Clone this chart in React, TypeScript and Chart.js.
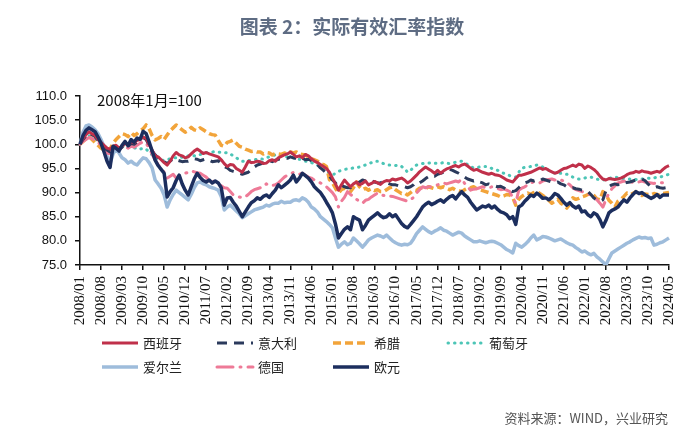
import { useEffect, useRef } from 'react';
import { Chart, registerables } from 'chart.js';

Chart.register(...registerables);

// ---------- categories ----------
const MONTHS: string[] = [];
for (let y = 2008; y <= 2024; y++) {
  for (let m = 1; m <= 12; m++) {
    if (y === 2024 && m > 5) break;
    MONTHS.push(`${y}/${String(m).padStart(2, '0')}`);
  }
}
const LABEL_STEP = 7;

const Y_MIN = 75;
const Y_MAX = 110;
const Y_STEP = 5;

const TITLE = '图表 2：实际有效汇率指数';
const NOTE = '2008年1月=100';
const SOURCE = '资料来源：WIND，兴业研究';

const NAMES = ['西班牙', '意大利', '希腊', '葡萄牙', '爱尔兰', '德国', '欧元'];

// ---------- series (monthly, 2008/01 - 2024/05) ----------
const SPAIN = [
  100.0, 101.2, 102.0, 102.6, 102.2, 101.8, 101.0, 100.4, 99.8, 99.2, 99.0, 99.6,
  99.8, 99.2, 99.6, 100.2, 99.9, 100.6, 100.3, 100.8, 101.0, 101.5, 101.2, 100.0,
  98.8, 97.6, 97.4, 96.8, 96.2, 95.7, 96.5, 97.6, 98.3, 97.8, 97.6, 97.2,
  97.4, 98.0, 98.6, 99.0, 98.6, 98.1, 98.3, 98.0, 97.8, 97.6, 97.4, 96.8,
  96.0, 95.4, 95.8, 95.7, 95.0, 94.6, 94.2, 95.3, 96.5, 96.2, 96.3, 96.5,
  96.4, 96.0, 96.1, 96.6, 96.8, 96.5, 97.2, 97.5, 97.8, 98.0, 98.4, 97.9,
  97.4, 97.6, 97.2, 97.9, 97.6, 97.0, 96.5, 96.2, 95.8, 95.4, 95.0, 94.2,
  93.0, 91.8, 90.5, 91.6, 92.6, 91.9, 91.2, 91.8, 92.2, 91.6, 91.9, 92.4,
  91.6, 91.9, 92.3, 92.0, 91.7, 92.2, 92.5, 92.4, 92.8, 92.6, 92.8, 93.0,
  92.6, 92.0, 92.4, 93.0, 93.6, 94.3, 94.8, 95.3, 94.9, 94.5, 94.0, 94.6,
  94.0, 94.5, 94.9, 95.1, 95.4, 95.6, 95.3, 95.7, 95.9, 95.5, 95.0, 94.6,
  94.8, 94.5, 94.2, 94.0, 93.8, 94.0, 93.7, 93.6, 93.4, 93.0, 92.6, 92.4,
  92.2, 92.9, 93.6, 93.6, 93.8, 94.0, 94.2, 94.5, 94.8, 95.1, 94.8, 95.0,
  94.6, 94.3, 94.0, 94.2, 94.6, 95.0, 95.1, 95.4, 95.7, 95.4, 95.9, 95.7,
  95.0, 95.5, 95.2, 94.8, 94.2, 93.4, 92.8, 92.6, 92.9, 92.8, 92.7, 92.8,
  93.0, 93.3, 93.7, 94.0, 94.1, 94.4, 94.2, 94.5, 94.3, 94.2, 94.0, 94.2,
  94.4, 94.2, 94.8, 95.3, 95.6,
];

const ITALY = [
  100.0, 101.0, 101.8, 102.4, 102.0, 101.6, 100.8, 100.0, 99.4, 98.8, 98.4, 99.2,
  99.6, 99.0, 99.4, 100.0, 99.6, 100.2, 100.0, 100.5, 100.8, 101.4, 101.0, 99.8,
  98.6, 97.8, 97.2, 96.8, 96.4, 96.0, 96.5, 97.0, 96.8, 96.6, 96.4, 96.5,
  96.5, 96.8, 97.0, 96.9, 96.6, 96.8, 97.0, 96.7, 96.4, 96.5, 96.6, 96.0,
  95.4, 95.1, 94.6, 94.4, 94.2, 94.0, 93.8, 94.0, 94.2, 94.8, 95.3, 95.7,
  95.9, 96.2, 96.5, 96.6, 96.4, 96.7, 96.9, 97.0, 97.2, 97.1, 97.4, 97.2,
  97.0, 97.3, 97.1, 96.8, 96.9, 96.6, 96.2, 95.8, 95.1, 94.6, 94.0, 93.4,
  92.6, 92.0, 91.2, 91.5, 91.2, 91.0, 91.0, 91.4, 91.8, 92.2, 92.6, 92.4,
  92.2, 92.4, 92.2, 92.0, 92.0, 92.3, 92.1, 91.8, 91.6, 91.6, 91.4, 91.2,
  91.2, 91.0, 91.2, 91.6, 92.2, 92.0, 92.4, 92.9, 93.3, 93.6, 93.4, 93.8,
  94.0, 94.2, 94.5, 94.8, 94.6, 94.3, 94.0, 93.6, 93.2, 92.8, 92.6, 92.4,
  92.6, 92.2, 92.0, 91.6, 91.8, 91.6, 91.4, 91.2, 91.3, 91.0, 90.6, 90.5,
  90.2, 90.4, 91.0, 91.6, 92.0, 92.2, 92.6, 92.4, 92.6, 92.4, 92.8, 92.6,
  92.4, 92.2, 92.0, 92.2, 91.8, 91.6, 91.2, 90.9, 91.0, 90.8, 90.7, 90.5,
  90.5, 90.2, 89.6, 88.9, 88.4, 88.2, 88.5, 90.4, 91.2, 91.6, 91.8, 91.6,
  92.0, 91.9, 92.1, 92.2, 92.4, 92.6, 92.7, 92.8, 92.5, 91.8, 91.2, 91.0,
  91.2, 91.0, 90.9, 91.0, 91.0,
];

const GREECE = [
  100.0, 100.6, 101.2, 101.6, 101.0, 100.4, 99.8, 99.2, 98.8, 98.5, 99.0, 100.2,
  101.0, 101.6, 102.2, 102.0, 101.6, 102.4, 101.8, 102.2, 102.8, 103.2, 104.0, 103.2,
  101.8, 100.9, 101.2, 101.6, 101.0, 101.9, 102.8, 103.4, 104.0, 103.5, 103.0, 102.5,
  102.8, 103.5, 103.0, 102.8, 103.4, 103.0, 102.6, 102.2, 102.0, 101.9, 100.8, 99.8,
  99.6, 100.4, 100.6, 100.9, 100.2, 99.6, 99.4, 99.0, 98.8, 98.5, 98.6, 98.4,
  98.4, 98.0, 98.3, 98.2, 97.8, 98.1, 98.0, 97.9, 98.2, 98.0, 98.4, 98.2,
  98.4, 98.0, 97.9, 97.8, 97.4, 97.0, 96.8, 96.5, 96.0, 95.8, 95.4, 92.7,
  92.0, 90.9, 89.9, 90.6, 90.9, 90.4, 90.2, 91.0, 92.2, 91.2, 90.6, 90.9,
  90.5, 90.8, 90.4, 90.6, 90.2, 90.2, 90.6, 91.0, 91.2, 90.6, 90.2, 89.8,
  89.9, 89.5, 90.0, 90.5, 90.4, 90.9, 91.0, 90.8, 91.2, 91.0, 90.8, 91.2,
  91.0, 91.2, 90.9, 90.6, 90.9, 90.5, 90.4, 90.2, 90.6, 90.9, 91.0, 91.2,
  90.8, 90.6, 90.4, 90.2, 90.0, 89.8, 89.6, 89.4, 89.1, 89.3, 89.6, 89.5,
  89.0, 87.4, 88.6, 89.2, 89.6, 89.9, 89.6, 90.0, 90.2, 89.8, 89.4, 88.9,
  88.4, 87.8, 88.2, 88.6, 87.8, 87.4, 86.8, 87.6, 88.9, 88.6, 88.8, 89.1,
  89.3, 89.6, 89.9, 89.4, 88.7, 88.5, 90.2, 89.6, 88.4, 87.8, 87.0, 88.2,
  88.6, 89.2, 89.9, 89.6, 89.8, 90.2, 89.5, 89.4, 89.7, 89.6, 89.5, 89.8,
  89.6, 89.4, 89.8, 89.9, 90.0,
];

const PORTUGAL = [
  100.0, 100.8, 101.4, 101.8, 101.5, 101.0, 100.6, 100.0, 99.6, 99.2, 99.0, 99.4,
  99.6, 99.2, 99.5, 99.8, 99.6, 99.4, 99.2, 99.3, 99.0, 99.2, 99.0, 98.4,
  97.8, 97.2, 97.0, 96.8, 96.6, 96.8, 97.0, 97.2, 97.2, 97.4, 97.3, 97.5,
  97.6, 97.8, 97.6, 97.9, 97.9, 98.0, 98.2, 98.4, 98.4, 98.5, 98.4, 98.3,
  98.2, 98.3, 98.0, 97.6, 97.2, 96.8, 96.5, 96.4, 96.6, 96.7, 96.8, 96.9,
  97.0, 96.9, 97.2, 97.4, 97.6, 97.8, 97.9, 97.6, 97.5, 97.4, 97.4, 97.2,
  97.0, 96.9, 96.7, 96.5, 96.4, 96.2, 96.0, 95.7, 95.4, 95.0, 94.5, 94.0,
  93.6, 94.0, 94.4, 94.6, 94.8, 94.9, 95.0, 95.1, 95.1, 95.3, 95.5, 95.7,
  96.0, 96.2, 96.5, 96.5, 96.3, 96.0, 95.8, 95.7, 95.7, 95.6, 95.7, 95.4,
  95.0, 94.2, 94.6, 95.2, 95.7, 95.9, 96.0, 96.1, 96.1, 96.2, 96.1, 96.0,
  96.1, 96.2, 96.1, 96.0, 96.1, 96.3, 96.4, 96.5, 96.2, 95.8, 95.4, 95.1,
  95.2, 95.3, 95.4, 95.4, 95.3, 95.0, 94.8, 94.6, 94.2, 94.0, 93.8, 93.5,
  93.4, 93.2, 94.2, 95.1, 95.2, 95.3, 95.4, 95.5, 95.7, 95.6, 95.3, 95.0,
  94.6, 94.2, 94.0, 93.9, 94.0, 93.8, 93.8, 93.5, 93.2, 93.0, 92.8, 92.9,
  93.0, 93.2, 93.2, 93.0, 92.8, 92.6, 92.6, 92.7, 92.9, 93.1, 93.2, 93.1,
  93.0, 92.9, 92.8, 92.8, 92.9, 92.7, 92.8, 92.8, 92.9, 93.0, 92.9, 93.0,
  93.2, 93.2, 93.4, 93.6, 93.8,
];

const IRELAND = [
  100.0, 102.5, 103.8, 104.0, 103.6, 103.0, 102.2, 101.0, 99.5, 97.6, 96.0, 98.0,
  99.0, 98.2, 97.2, 96.8, 96.1, 96.5, 96.0, 95.7, 96.5, 97.2, 97.0, 96.2,
  95.1, 92.6, 91.8, 90.9, 89.5, 87.0, 88.5, 89.6, 90.5, 90.0, 89.5, 89.0,
  88.5, 89.6, 91.0, 92.0, 92.2, 91.8, 91.6, 91.2, 91.0, 90.8, 90.5, 89.2,
  86.4, 87.0, 87.4, 86.8, 86.2, 85.6, 84.8, 85.2, 85.6, 86.0, 86.4, 86.6,
  86.8, 87.0, 87.4, 87.2, 87.6, 87.8, 87.8, 88.2, 87.9, 88.0, 88.0, 88.4,
  88.5, 88.3, 88.9, 88.6, 88.0, 87.0, 86.6, 86.0, 85.0, 84.5, 84.0, 83.4,
  82.7, 80.6, 78.7, 79.3, 79.8, 79.2, 79.5, 80.6, 80.0, 79.4, 78.7, 79.4,
  80.2, 80.6, 80.9, 81.2, 81.0, 80.7, 81.2, 80.6, 80.0, 79.6, 79.3, 79.1,
  79.3, 79.2, 79.5, 80.4, 81.5, 82.2, 82.9, 82.4, 81.9, 81.6, 82.0, 82.3,
  82.7, 82.2, 82.0, 81.6, 81.2, 81.5, 81.8, 81.6, 81.0, 80.6, 80.2, 79.8,
  79.8, 80.0, 79.8, 79.6, 79.8, 79.9, 79.8, 79.5, 79.2, 78.7, 78.2, 77.9,
  77.5, 79.5, 79.0, 78.7, 79.2, 79.8, 80.6, 81.2, 80.2, 80.5, 80.9, 80.8,
  80.6, 80.3, 80.0, 80.2, 80.4, 80.0, 79.6, 79.3, 79.1, 78.6, 78.2, 77.7,
  77.9, 77.4, 77.1, 77.4, 76.7, 76.2, 75.6, 75.0, 76.3, 77.5, 77.9, 78.3,
  78.7, 79.1, 79.5, 79.8, 80.2, 80.5, 80.8, 80.6, 80.7, 80.5, 80.6, 79.1,
  79.3, 79.6, 79.8, 80.2, 80.6,
];

const GERMANY = [
  100.0, 100.6, 101.0, 101.4, 101.2, 100.8, 100.4, 99.8, 99.0, 98.2, 98.0, 99.0,
  99.6, 99.0, 99.3, 99.5, 99.2, 99.6, 99.4, 99.8, 100.2, 100.5, 100.2, 99.2,
  98.0, 96.8, 95.8, 95.0, 94.2, 93.0, 93.4, 93.8, 93.0, 93.5, 93.8, 94.0,
  94.2, 94.5, 94.3, 94.1, 94.0, 93.6, 93.2, 92.6, 92.4, 92.2, 91.8, 91.4,
  91.0, 90.9, 90.2, 89.5, 89.3, 89.1, 88.9, 89.1, 89.6, 90.2, 90.6, 90.8,
  91.0, 91.2, 91.8, 91.4, 91.5, 91.6, 92.0, 92.6, 93.2, 93.6, 93.8, 94.2,
  94.0, 93.8, 94.0, 93.6, 93.2, 93.0, 92.6, 92.2, 92.0, 91.6, 91.2, 90.6,
  90.0, 89.1, 87.0, 88.2, 89.0, 90.2, 89.6, 89.2, 88.6, 88.2, 87.8, 88.4,
  88.6, 89.1, 89.5, 89.9, 89.6, 89.4, 89.5, 89.3, 89.2, 89.0, 88.8, 88.6,
  88.4, 88.2, 88.5, 89.0, 89.9, 90.6, 91.2, 91.0, 91.2, 91.2, 91.4, 91.6,
  91.8, 92.0, 91.8, 92.0, 92.2, 92.4, 92.2, 92.8, 91.9, 91.2, 90.5, 90.7,
  90.8, 91.0, 91.2, 91.0, 90.9, 91.2, 91.0, 90.8, 90.6, 90.7, 90.5, 90.2,
  88.9, 87.8, 90.5, 90.9, 91.2, 91.6, 92.0, 92.2, 92.1, 92.0, 92.4, 92.6,
  92.7, 92.8, 92.6, 92.8, 92.6, 92.4, 92.0, 91.6, 91.0, 90.6, 90.4, 90.2,
  90.0, 89.8, 89.5, 89.0, 88.5, 87.8, 87.0, 88.5, 89.9, 90.8, 91.4, 92.0,
  92.2, 92.4, 92.2, 92.3, 92.1, 92.0, 92.2, 92.4, 92.2, 92.1, 92.0, 91.9,
  92.0, 92.1, 92.0, 92.1, 92.0,
];

const EURO = [
  100.0, 101.8, 102.9, 103.4, 103.0, 102.6, 101.5, 100.2, 98.4, 96.5, 95.2, 99.6,
  99.2, 98.6, 99.8, 100.6, 99.7, 101.0, 100.4, 101.3, 101.0, 102.7, 102.2, 100.5,
  98.6, 96.7, 95.6, 94.8, 94.0, 89.1, 90.2, 91.0, 92.5, 93.6, 91.8, 90.5,
  89.5, 91.2, 92.8, 94.0, 93.1, 92.5, 92.2, 92.6, 92.0, 92.4, 92.0, 91.0,
  87.4, 88.9, 89.0, 88.0, 87.2, 86.1, 85.0, 86.0, 87.0, 87.9, 88.3, 88.9,
  88.6, 89.2, 89.5, 89.0, 89.8, 90.5, 91.6, 91.0, 91.5, 92.0, 92.6, 93.6,
  92.2, 93.0, 94.0, 93.5, 93.0, 92.2, 91.2, 90.6, 90.0, 89.1, 88.0, 87.0,
  85.8, 83.5, 80.6, 81.5, 82.4, 82.9, 82.3, 85.0, 84.6, 84.3, 82.3, 83.2,
  84.3, 84.8, 85.3, 85.8, 85.2, 84.8, 85.0, 85.6, 85.0, 85.4, 84.5, 83.6,
  83.0, 82.7, 83.4, 84.2, 85.0, 86.0, 87.0, 87.6, 88.0, 87.5, 87.8, 88.2,
  88.5, 88.0, 88.6, 89.1, 89.4, 88.7, 89.5, 90.2, 89.5, 89.0, 88.0, 87.2,
  86.4, 86.8, 87.2, 87.0, 87.4, 86.8, 87.2, 86.5, 86.0, 85.8, 85.4, 84.6,
  85.0, 83.4, 87.0, 87.4, 88.2, 88.8, 89.5, 89.2, 89.9, 89.4, 88.8, 88.9,
  88.5, 89.0, 89.8, 89.5, 88.8, 88.0, 87.4, 87.9, 87.2, 86.8, 87.2, 86.0,
  86.2, 85.4, 85.0, 85.8, 85.4, 84.4, 82.9, 84.2, 85.8, 86.3, 86.6, 87.0,
  87.8, 88.5, 88.0, 88.9, 89.6, 90.2, 89.8, 90.0, 89.5, 89.2, 88.8, 89.1,
  89.6, 89.0, 89.5, 89.5, 89.5,
];

const SERIES = [SPAIN, ITALY, GREECE, PORTUGAL, IRELAND, GERMANY, EURO];

// ---------- styles ----------
const COLORS = ['#C0304A', '#2B3A5C', '#F2A43A', '#4CC5B6', '#9EBCDB', '#EE7A97', '#1C2E5E'];
const WIDTHS = [3, 3, 3.5, 3, 3.5, 3, 3.5];
const DASHES: number[][] = [[], [10, 7], [8, 4], [0.5, 6], [], [16, 7, 1, 7], []];
const CAPS = ['butt', 'butt', 'butt', 'round', 'butt', 'round', 'butt'];
const Z_ORDER = [1, 2, 4, 5, 6, 3, 0];

const CJK = "'Noto Sans CJK SC', 'Noto Sans', sans-serif";

const overlayPlugin = {
  id: 'overlayText',
  afterDraw(chart: any) {
    const ctx = chart.ctx as CanvasRenderingContext2D;
    const area = chart.chartArea;
    ctx.save();
    // title
    ctx.fillStyle = '#5E6C83';
    ctx.font = `bold 19px ${CJK}`;
    ctx.textAlign = 'center';
    ctx.textBaseline = 'middle';
    ctx.fillText(TITLE, 352, 27);

    // note
    ctx.fillStyle = '#111';
    ctx.font = `15px ${CJK}`;
    ctx.textAlign = 'left';
    ctx.fillText(NOTE, area.left + 17, area.top + 4);

    // legend grid
    const colX = [102, 217, 333, 448];
    const rowY = [343, 367];
    chart.data.datasets.forEach((ds: any, i: number) => {
      const x = colX[i % 4];
      const y = rowY[Math.floor(i / 4)];
      ctx.save();
      ctx.strokeStyle = ds.borderColor;
      ctx.lineWidth = ds.borderWidth;
      ctx.lineCap = ds.borderCapStyle || 'butt';
      ctx.setLineDash(ds.borderDash || []);
      ctx.beginPath();
      ctx.moveTo(x, y);
      ctx.lineTo(x + 36, y);
      ctx.stroke();
      ctx.restore();
      ctx.fillStyle = '#222';
      ctx.font = `13px ${CJK}`;
      ctx.textAlign = 'left';
      ctx.textBaseline = 'middle';
      ctx.fillText(ds.label, x + 41, y);
    });

    // source
    ctx.fillStyle = '#555';
    ctx.font = `13px ${CJK}`;
    ctx.textAlign = 'right';
    ctx.textBaseline = 'middle';
    ctx.fillText(SOURCE, 668, 418);
    ctx.restore();
  },
};

export default function App() {
  const ref = useRef<HTMLCanvasElement | null>(null);

  useEffect(() => {
    document.body.style.margin = '0';
    const canvas = ref.current;
    if (!canvas) return;
    const chart = new Chart(canvas, {
      type: 'line',
      data: {
        labels: MONTHS,
        datasets: SERIES.map((values, i) => ({
          label: NAMES[i],
          data: values,
          borderColor: COLORS[i],
          backgroundColor: COLORS[i],
          borderWidth: WIDTHS[i],
          borderDash: DASHES[i],
          borderCapStyle: CAPS[i] as CanvasLineCap,
          borderJoinStyle: 'round' as CanvasLineJoin,
          pointRadius: 0,
          pointHoverRadius: 0,
          tension: 0,
          fill: false,
          order: Z_ORDER[i],
        })),
      },
      options: {
        animation: false,
        responsive: true,
        maintainAspectRatio: false,
        layout: { padding: { left: 0, right: 31, top: 96, bottom: 0 } },
        plugins: {
          legend: { display: false },
          tooltip: { enabled: false },
          title: { display: false },
        },
        scales: {
          x: {
            type: 'category',
            offset: false,
            afterBuildTicks: (scale: any) => {
              scale.ticks = scale.ticks.filter((_t: any, i: number) => i % LABEL_STEP === 0);
            },
            afterFit: (scale: any) => {
              scale.height = 180;
            },
            ticks: {
              autoSkip: false,
              minRotation: 90,
              maxRotation: 90,
              padding: 6,
              color: '#111',
              font: { family: "'Liberation Serif', serif", size: 15 },
            },
            grid: {
              display: true,
              drawOnChartArea: false,
              drawTicks: true,
              tickLength: 5,
              color: '#111',
              lineWidth: 1.5,
            },
            border: { display: true, color: '#111', width: 1.5 },
          },
          y: {
            min: Y_MIN,
            max: Y_MAX,
            afterFit: (scale: any) => {
              scale.width = 80;
            },
            ticks: {
              stepSize: Y_STEP,
              padding: 8,
              color: '#111',
              font: { family: 'Liberation Sans', size: 13 },
              callback: (v: any) => Number(v).toFixed(1),
            },
            grid: {
              display: true,
              drawOnChartArea: false,
              drawTicks: true,
              tickLength: 5,
              color: '#111',
              lineWidth: 1.5,
            },
            border: { display: true, color: '#111', width: 1.5 },
          },
        },
      },
      plugins: [overlayPlugin],
    });
    return () => chart.destroy();
  }, []);

  return (
    <div style={{ position: 'absolute', left: 0, top: 0, width: 700, height: 445, background: '#fff' }}>
      <canvas ref={ref} />
    </div>
  );
}
